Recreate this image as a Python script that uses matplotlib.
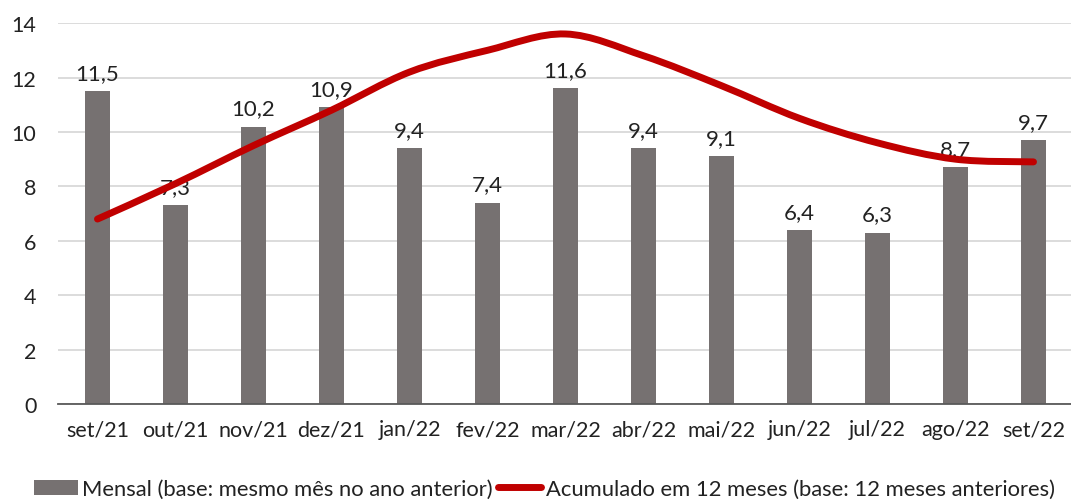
import numpy as np
import matplotlib
matplotlib.use("Agg")
import matplotlib.pyplot as plt
from matplotlib.path import Path
from matplotlib.patches import PathPatch, Patch
from matplotlib.lines import Line2D

meses = ["set/21", "out/21", "nov/21", "dez/21", "jan/22", "fev/22", "mar/22",
         "abr/22", "mai/22", "jun/22", "jul/22", "ago/22", "set/22"]
mensal = [11.5, 7.3, 10.2, 10.9, 9.4, 7.4, 11.6, 9.4, 9.1, 6.4, 6.3, 8.7, 9.7]
acumulado = [6.8, 8.1, 9.5, 10.8, 12.2, 13.0, 13.6, 12.8, 11.7, 10.5, 9.6, 9.0, 8.9]

COR_BARRA = "#767171"
COR_LINHA = "#C00000"
plt.rcParams["font.family"] = ["Lato", "DejaVu Sans"]


def curva_suave(xs, ys, t=1 / 6):
    # bezier cúbica estilo "linha suavizada" do Excel
    pts = list(zip(xs, ys))
    verts = [pts[0]]
    codes = [Path.MOVETO]
    n = len(pts)
    for i in range(n - 1):
        p0 = pts[i - 1] if i > 0 else pts[i]
        p1, p2 = pts[i], pts[i + 1]
        p3 = pts[i + 2] if i + 2 < n else pts[i + 1]
        c1 = (p1[0] + (p2[0] - p0[0]) * t, p1[1] + (p2[1] - p0[1]) * t)
        c2 = (p2[0] - (p3[0] - p1[0]) * t, p2[1] - (p3[1] - p1[1]) * t)
        verts += [c1, c2, p2]
        codes += [Path.CURVE4] * 3
    return Path(verts, codes)


fig = plt.figure(figsize=(10.71, 5.02), dpi=100)
ax = fig.add_axes([0.0546, 0.193, 0.9468, 0.759])

x = np.arange(len(meses))
ax.bar(x, mensal, width=0.32, color=COR_BARRA, zorder=2)
for xi, v in zip(x, mensal):
    ax.text(xi, v + 0.3, f"{v:.1f}".replace(".", ","), ha="center", va="bottom",
            fontsize=16, color="#222222")

ax.add_patch(PathPatch(curva_suave(x, acumulado), fill=False, edgecolor=COR_LINHA,
                       lw=5, capstyle="round", joinstyle="round", zorder=3))

ax.set_xlim(-0.5, len(meses) - 0.5)
ax.set_ylim(0, 14)
ax.set_yticks(range(0, 15, 2))
ax.set_xticks(x)
ax.set_xticklabels(meses)
ax.tick_params(axis="both", length=0, labelsize=15.5, colors="#222222")
ax.tick_params(axis="x", pad=11)
ax.tick_params(axis="y", pad=16)
ax.grid(axis="y", color="#D9D9D9", lw=1.3, zorder=0)
for s in ["top", "right", "left"]:
    ax.spines[s].set_visible(False)
ax.spines["bottom"].set_color("#595959")
ax.spines["bottom"].set_linewidth(1.3)
ax.spines["bottom"].set_zorder(4)

handles = [Patch(facecolor=COR_BARRA, edgecolor="none"),
           Line2D([0], [0], color=COR_LINHA, lw=5, solid_capstyle="round")]
labels = ["Mensal (base: mesmo mês no ano anterior)",
          "Acumulado em 12 meses (base: 12 meses anteriores)"]
fig.legend(handles, labels, loc="center", bbox_to_anchor=(0.5084, 0.024), ncol=2,
           frameon=False, fontsize=15.8, handlelength=2.0, handleheight=0.7,
           handletextpad=0.2, columnspacing=0.2, borderpad=0, borderaxespad=0,
           labelcolor="#222222")

fig.savefig("out.png", dpi=100)
